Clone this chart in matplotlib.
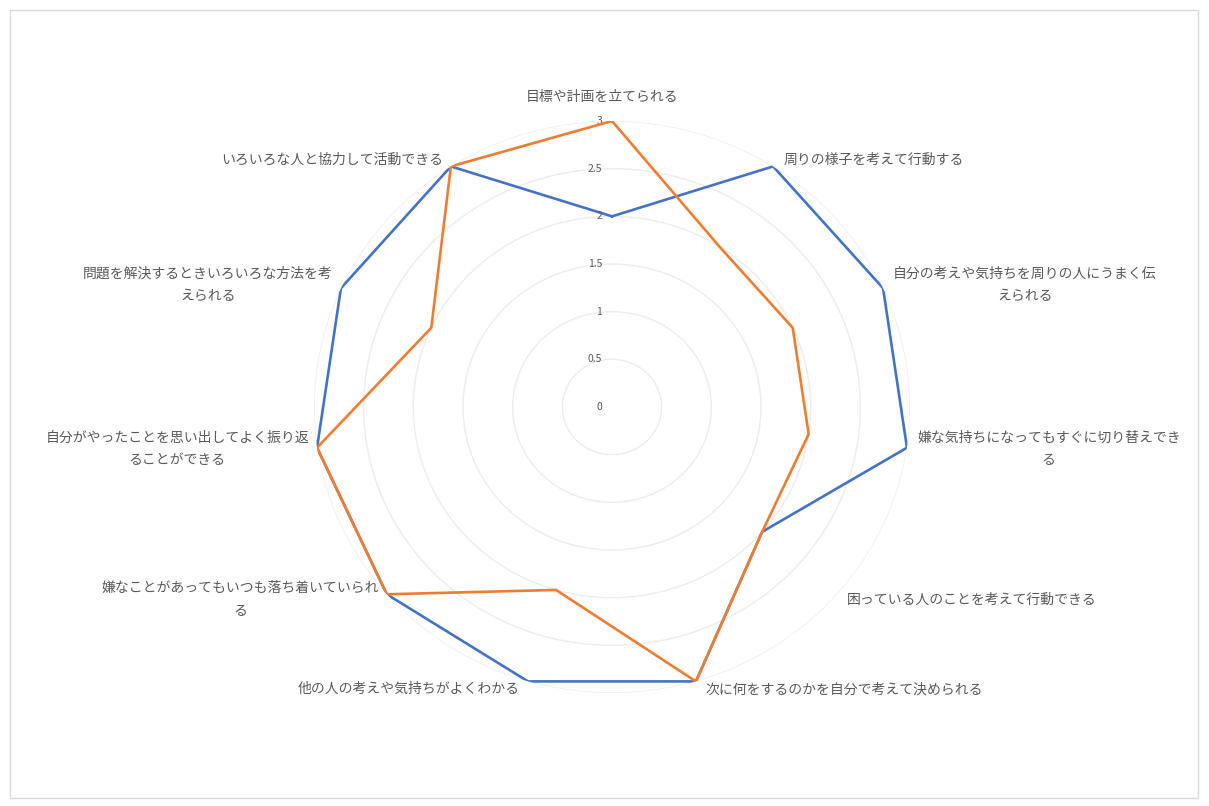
import numpy as np
import matplotlib
matplotlib.use("Agg")
import matplotlib.pyplot as plt
from matplotlib import transforms
from matplotlib.patches import Rectangle

plt.rcParams['font.family'] = ['Noto Sans CJK JP', 'DejaVu Sans']

categories = [
    "目標や計画を立てられる",
    "周りの様子を考えて行動する",
    "自分の考えや気持ちを周りの人にうまく伝\nえられる",
    "嫌な気持ちになってもすぐに切り替えでき\nる",
    "困っている人のことを考えて行動できる",
    "次に何をするのかを自分で考えて決められる",
    "他の人の考えや気持ちがよくわかる",
    "嫌なことがあってもいつも落ち着いていられ\nる",
    "自分がやったことを思い出してよく振り返\nることができる",
    "問題を解決するときいろいろな方法を考\nえられる",
    "いろいろな人と協力して活動できる",
]
series_blue = [2, 3, 3, 3, 2, 3, 3, 3, 3, 3, 3]
series_orange = [3, 2, 2, 2, 2, 3, 2, 3, 3, 2, 3]
r_ticks = [0, 0.5, 1, 1.5, 2, 2.5, 3]
r_tick_labels = ["0", "0.5", "1", "1.5", "2", "2.5", "3"]

W, H, DPI = 1209, 806, 100
fig = plt.figure(figsize=(W / DPI, H / DPI), dpi=DPI)
fig.patch.set_facecolor('white')
fig.add_artist(Rectangle((10 / W, 8 / H), 1188 / W, 788 / H, transform=fig.transFigure,
                         fill=False, edgecolor='#d9d9d9', linewidth=1))

cx, cy, Rx, Ry = 612, 399, 298, 286
ax = fig.add_axes([(cx - Rx) / W, (cy - Ry) / H, 2 * Rx / W, 2 * Ry / H], projection='polar')
ax.set_aspect('auto')
ax.set_theta_zero_location('N')
ax.set_theta_direction(-1)
ax.set_ylim(0, 3)
ax.spines['polar'].set_visible(False)
ax.set_facecolor('none')
ax.set_xticks([])
ax.set_yticks(r_ticks)
ax.set_yticklabels([])
ax.yaxis.grid(True, color='#ececec', linewidth=1)
ax.xaxis.grid(False)

n = len(categories)
angles = np.linspace(0, 2 * np.pi, n, endpoint=False)
ang_closed = np.concatenate([angles, angles[:1]])

ax.plot(ang_closed, series_blue + series_blue[:1], color='#4472C4', linewidth=1.9, zorder=3)
ax.plot(ang_closed, series_orange + series_orange[:1], color='#ED7D31', linewidth=1.9, zorder=4)

# radial tick labels
off_tick = transforms.offset_copy(ax.transData, fig=fig, x=-10, y=0, units='dots')
for r, lab in zip(r_ticks, r_tick_labels):
    ax.text(0, r, lab, transform=off_tick, ha='right', va='center', fontsize=7.5, color='#595959')

# category labels
for a, lab in zip(angles, categories):
    s, c = np.sin(a), np.cos(a)
    if abs(s) < 0.1:
        ha = 'center'
        dx, dy = -10, 17
        va = 'bottom'
    else:
        ha = 'left' if s > 0 else 'right'
        dx = 10 if s > 0 else -8
        dy = c * 8
        va = 'center'
    tr = transforms.offset_copy(ax.transData, fig=fig, x=dx, y=dy, units='dots')
    ax.text(a, 3, lab, transform=tr, ha=ha, va=va, multialignment='center',
            fontsize=10, color='#595959', linespacing=1.8)

fig.savefig('out.png', dpi=DPI, facecolor='white')
